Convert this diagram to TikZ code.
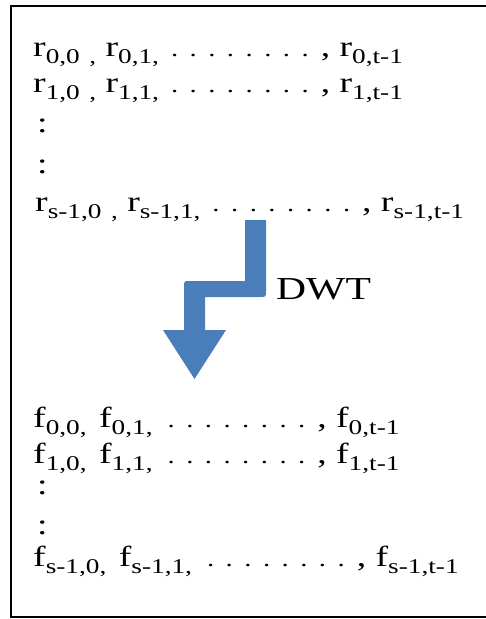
\documentclass[tikz,border=0pt]{standalone}
\usepackage{fontspec}
\setmainfont{Liberation Serif}[FakeStretch=1.3]
\definecolor{arrowblue}{RGB}{74,126,187}
\newcommand{\sbx}[1]{\raisebox{-7.5pt}{\fontsize{21}{21}\selectfont #1}}
\newcommand{\dotsrow}{{\fontsize{22}{22}\selectfont\hspace{12pt}.\hspace{11.5pt}.\hspace{11.5pt}.\hspace{11.5pt}.\hspace{11.5pt}.\hspace{11.5pt}.\hspace{11.5pt}.\hspace{11.5pt}.\hspace{12pt}}}
\tikzset{
  rowtext/.style={anchor=base west, inner sep=0pt, font=\fontsize{29}{29}\selectfont},
  frameline/.style={line width=2.5pt, draw=black}
}
\begin{document}
\begin{tikzpicture}[x=1pt, y=-1pt]
\useasboundingbox (0,0) rectangle (486,619);
\fill[white] (0,0) rectangle (486,619);
% frame (right side lies beyond the picture)
\draw[frameline] (495,6) -- (11,6) -- (11,617) -- (495,617);
% top block
\node[rowtext] (r0) at (33,56) {r\sbx{0,0} \sbx{,} r\sbx{0,1,}\dotsrow, r\sbx{0,t-1}};
\node[rowtext] (r1) at (33,92) {r\sbx{1,0} \sbx{,} r\sbx{1,1,}\dotsrow, r\sbx{1,t-1}};
\node[rowtext] (c1) at (37,132) {:};
\node[rowtext] (c2) at (37,173) {:};
\node[rowtext] (r5) at (35,211) {r\sbx{s-1,0} \sbx{,} r\sbx{s-1,1,}\dotsrow, r\sbx{s-1,t-1}};
% arrow
\fill[arrowblue] (245,220) -- (266,220) -- (266,291) .. controls (266,297) .. (260,297)
  -- (205,297) -- (205,330) -- (226,330) -- (194.5,379) -- (163,330) -- (184,330)
  -- (184,287) .. controls (184,281) .. (190,281) -- (245,281) -- cycle;
\node[anchor=base west, inner sep=0pt, font=\fontsize{32}{32}\selectfont] (dwt) at (276,299) {DWT};
% bottom block
\node[rowtext] (f0) at (33,427) {f\sbx{0,0,}\hspace{3pt} f\sbx{0,1,}\hspace{3pt}\dotsrow, f\sbx{0,t-1}};
\node[rowtext] (f1) at (33,463) {f\sbx{1,0,}\hspace{3pt} f\sbx{1,1,}\hspace{3pt}\dotsrow, f\sbx{1,t-1}};
\node[rowtext] (c3) at (37,494) {:};
\node[rowtext] (c4) at (37,534) {:};
\node[rowtext] (f5) at (33,566) {f\sbx{s-1,0,}\hspace{3pt} f\sbx{s-1,1,}\hspace{3pt}\dotsrow, f\sbx{s-1,t-1}};
\end{tikzpicture}
\end{document}
